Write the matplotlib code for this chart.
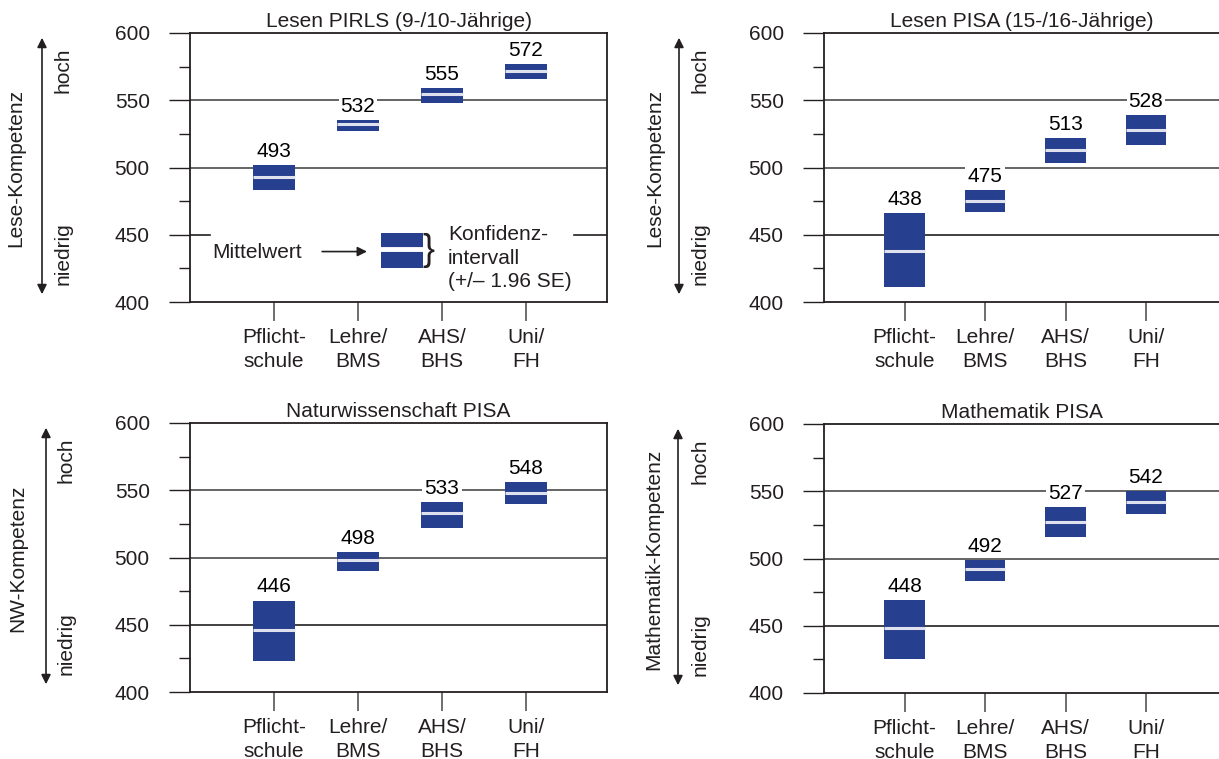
import matplotlib
matplotlib.use('agg')

import matplotlib.pyplot as plt
from matplotlib.patches import Rectangle

plt.rcParams['font.family'] = ['Liberation Sans', 'DejaVu Sans']

# data
categories = ['Pflicht-\nschule', 'Lehre/\nBMS', 'AHS/\nBHS', 'Uni/\nFH']

pirls_mean = [493, 532, 555, 572]
pirls_low = [483, 527, 548, 566]
pirls_high = [502, 535, 559, 577]

pisa_read_mean = [438, 475, 513, 528]
pisa_read_low = [411, 467, 503, 517]
pisa_read_high = [466, 483, 522, 539]

pisa_sci_mean = [446, 498, 533, 548]
pisa_sci_low = [423, 490, 522, 540]
pisa_sci_high = [468, 504, 541, 556]

pisa_math_mean = [448, 492, 527, 542]
pisa_math_low = [425, 483, 516, 533]
pisa_math_high = [469, 499, 538, 550]

titles = ['Lesen PIRLS (9-/10-Jährige)', 'Lesen PISA (15-/16-Jährige)',
          'Naturwissenschaft PISA', 'Mathematik PISA']
side_labels = ['Lese-Kompetenz', 'Lese-Kompetenz', 'NW-Kompetenz', 'Mathematik-Kompetenz']

W, H = 1219, 759
BLUE = '#263f8e'
INK = '#231f20'
GRID = '#4a4a4a'
FS = 15


def fx(x):
    return x / W


def fy(y):
    return 1 - y / H


fig = plt.figure(figsize=(W / 100, H / 100), dpi=100)


def panel(left, top, width, span, title, means, lows, highs, right_spine):
    ax = fig.add_axes([fx(left), fy(top + 269), width / W, 269 / H])
    ax.set_xlim(0, width / span)
    ax.set_ylim(400, 600)
    xs = [i + 1 for i in range(len(means))]
    for x, m, lo, hi in zip(xs, means, lows, highs):
        ax.add_patch(Rectangle((x - 0.25, lo), 0.5, hi - lo, facecolor=BLUE,
                               edgecolor='none', zorder=3))
        ax.plot([x - 0.25, x + 0.25], [m, m], color='#dfe2ee', lw=2.2,
                solid_capstyle='butt', zorder=4)
        ax.annotate(str(m), (x, hi), xytext=(0, 3), textcoords='offset points',
                    ha='center', va='bottom', fontsize=FS, color='black', zorder=5,
                    bbox=dict(boxstyle='square,pad=0.1', fc='white', ec='none'))
    ax.set_yticks([400, 450, 500, 550, 600])
    ax.set_yticks([425, 475, 525, 575], minor=True)
    ax.tick_params(axis='y', which='major', direction='out', length=15, width=1,
                   color=INK, labelsize=FS, labelcolor=INK, pad=14)
    ax.tick_params(axis='y', which='minor', direction='out', length=8, width=1, color=INK)
    ax.set_xticks(xs)
    ax.set_xticklabels(categories, linespacing=1.3)
    ax.tick_params(axis='x', direction='out', length=14, width=1.2, color='#555555',
                   labelsize=FS, labelcolor=INK, pad=5)
    for s in ['left', 'bottom', 'top']:
        ax.spines[s].set_color(INK)
        ax.spines[s].set_linewidth(1.3)
    ax.spines['right'].set_visible(right_spine)
    ax.spines['right'].set_color(INK)
    ax.spines['right'].set_linewidth(1.3)
    ax.set_title(title, fontsize=FS, color=INK, pad=4)
    return ax


ax_tl = panel(190, 33, 417, 84, titles[0], pirls_mean, pirls_low, pirls_high, True)
ax_tr = panel(824, 33, 395, 80.5, titles[1], pisa_read_mean, pisa_read_low, pisa_read_high, False)
ax_bl = panel(190, 423, 417, 84, titles[2], pisa_sci_mean, pisa_sci_low, pisa_sci_high, True)
ax_br = panel(824, 424, 395, 80.5, titles[3], pisa_math_mean, pisa_math_low, pisa_math_high, False)

# grid lines (the 450 line of the first panel is interrupted by the key)
for ax in [ax_tl, ax_tr, ax_bl, ax_br]:
    for g in [500, 550]:
        ax.axhline(g, color=GRID, lw=1.2, zorder=1)
for ax in [ax_tr, ax_bl, ax_br]:
    ax.axhline(450, color=INK, lw=1.2, zorder=1)
ax_tl.plot([0, 0.24], [450, 450], color=INK, lw=1.2, zorder=1)
ax_tl.plot([4.57, 5], [450, 450], color=INK, lw=1.2, zorder=1)

# key in the first panel
ax_tl.add_patch(Rectangle((2.27, 425.5), 0.5, 25.5, facecolor=BLUE, edgecolor='none', zorder=3))
ax_tl.plot([2.26, 2.77], [439.5, 439.5], color='white', lw=3.5, solid_capstyle='butt', zorder=4)
ax_tl.text(0.27, 436.5, 'Mittelwert', fontsize=FS, color=INK, ha='left', va='center')
ax_tl.annotate('', xy=(2.14, 437.5), xytext=(1.54, 437.5),
               arrowprops=dict(arrowstyle='-|>', color=INK, lw=1.2, mutation_scale=14))
ax_tl.text(2.77, 438.5, '}', fontsize=26, color=INK, ha='left', va='center')
ax_tl.text(3.07, 432.5, 'Konfidenz-\nintervall\n(+/– 1.96 SE)', fontsize=FS, color=INK,
           ha='left', va='center', linespacing=1.3)

# side labels with double arrows
side = [(16, 42, 63, 33), (655, 679, 700, 33), (18, 46, 66, 423), (654, 678, 700, 424)]
for (lx, axx, hx, top), lab in zip(side, side_labels):
    fig.text(fx(lx), fy(top + 135), lab, rotation=90, ha='center', va='center',
             fontsize=FS, color=INK)
    fig.text(fx(hx), fy(top + 37), 'hoch', rotation=90, ha='center', va='center',
             fontsize=FS, color=INK)
    fig.text(fx(hx), fy(top + 221), 'niedrig', rotation=90, ha='center', va='center',
             fontsize=FS, color=INK)
    fig.add_artist(matplotlib.patches.FancyArrowPatch(
        (fx(axx), fy(top + 264)), (fx(axx), fy(top + 2)), transform=fig.transFigure,
        arrowstyle='<|-|>', mutation_scale=14, color=INK, lw=1.2))

plt.savefig('out.png', dpi=100)
